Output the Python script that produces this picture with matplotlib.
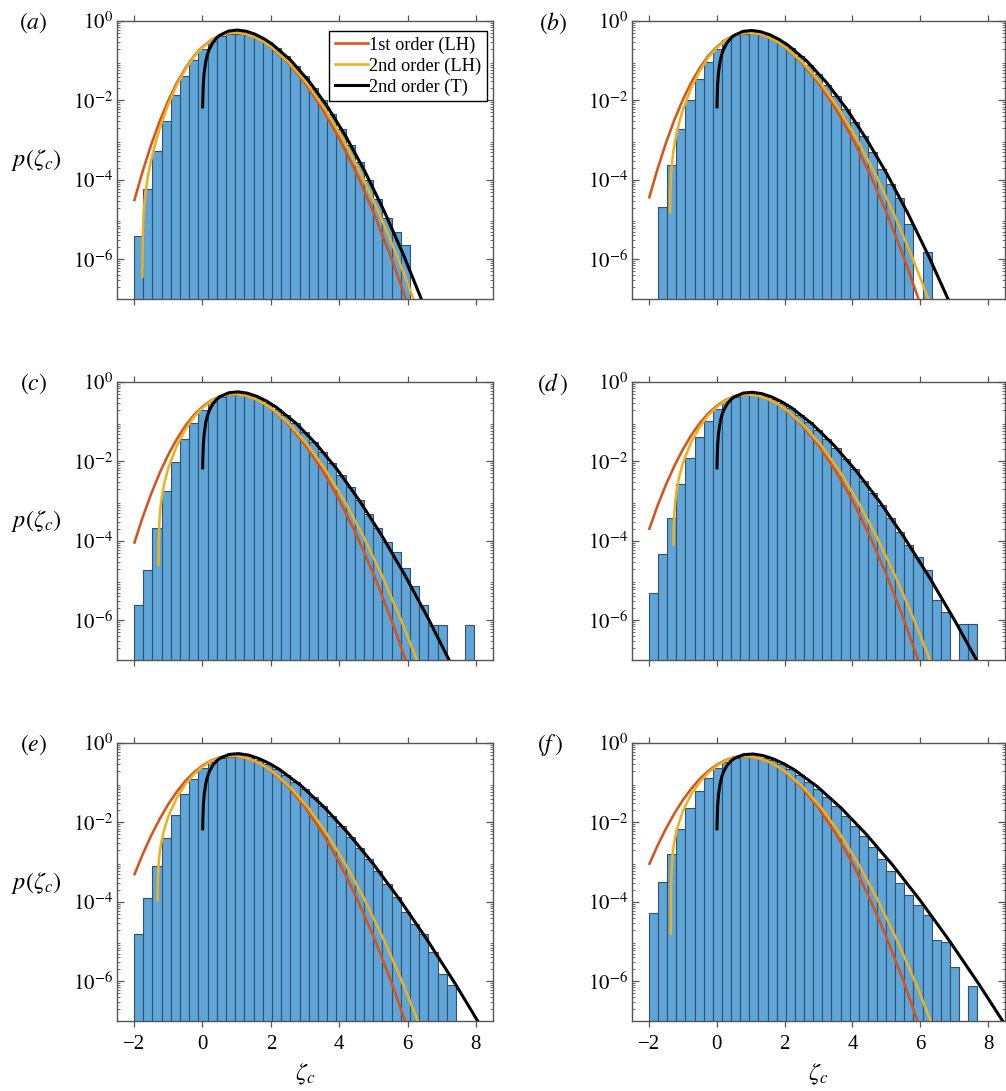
import numpy as np
import matplotlib
matplotlib.use('Agg')
import matplotlib.pyplot as plt
from matplotlib.ticker import LogLocator, NullFormatter, FixedLocator
from matplotlib.lines import Line2D

plt.rcParams['font.family'] = ['Liberation Serif', 'DejaVu Serif']
plt.rcParams['mathtext.fontset'] = 'stix'

# ---------------- data (log10 of pdf values) ----------------
BIN_W = 0.269
panels = ['a', 'b', 'c', 'd', 'e', 'f']
bar_start = {'a': -2.0, 'b': -1.731, 'c': -2.0, 'd': -2.0, 'e': -2.0, 'f': -2.0}
nan = np.nan
bars_a = [-5.41, -4.24, -3.27, -2.52, -1.875, -1.375, -0.975, -0.71, -0.50, -0.38, -0.33, -0.32, -0.35,
          -0.42, -0.53, -0.69, -0.89, -1.13, -1.39, -1.68, -2.00, -2.35, -2.72, -3.12, -3.55, -4.0,
          -4.47, -4.96, -5.32, -5.63]
bars_b = [-4.68, -3.62, -2.725, -2.0, -1.45, -1.02, -0.71, -0.48, -0.36, -0.32, -0.31, -0.34, -0.41,
          -0.53, -0.69, -0.88, -1.10, -1.34, -1.61, -1.90, -2.21, -2.55, -2.89, -3.31, -3.72, -4.10,
          -4.45, -5.10, nan, -5.825]
bars_c = [-5.625, -4.73, -3.67, -2.75, -2.025, -1.44, -1.04, -0.71, -0.50, -0.38, -0.33, -0.32, -0.35,
          -0.41, -0.52, -0.67, -0.84, -1.04, -1.26, -1.50, -1.76, -2.04, -2.34, -2.65, -2.98, -3.32,
          -3.68, -4.02, -4.29, -4.69, -5.125, -5.625, -6.125, -6.125, nan, nan, -6.125]
bars_d = [-5.32, -4.34, -3.42, -2.58, -1.92, -1.375, -0.97, -0.675, -0.48, -0.37, -0.33, -0.33, -0.36,
          -0.42, -0.52, -0.66, -0.82, -1.0, -1.21, -1.43, -1.67, -1.93, -2.2, -2.49, -2.79, -3.10,
          -3.43, -3.77, -4.11, -4.4, -4.73, -5.48, -5.79, nan, -6.09, -6.09]
bars_e = [-4.80, -3.91, -3.09, -2.38, -1.82, -1.295, -0.90, -0.64, -0.47, -0.37, -0.34, -0.34, -0.37,
          -0.43, -0.52, -0.65, -0.80, -0.97, -1.16, -1.37, -1.59, -1.83, -2.09, -2.36, -2.64, -2.93,
          -3.23, -3.55, -3.87, -4.25, -4.57, -4.82, -5.26, -5.81, -6.10]
bars_f = [-4.28, -3.51, -2.80, -2.17, -1.645, -1.21, -0.88, -0.64, -0.47, -0.38, -0.35, -0.35, -0.38,
          -0.44, -0.53, -0.65, -0.80, -0.97, -1.16, -1.37, -1.59, -1.83, -2.08, -2.35, -2.63, -2.92,
          -3.22, -3.52, -3.83, -4.09, -4.34, -4.95, -5.0, -5.64, nan, -6.12]
bars = {'a': bars_a, 'b': bars_b, 'c': bars_c, 'd': bars_d, 'e': bars_e, 'f': bars_f}

# 1st order (LH)
red_z = [-2, -1.75, -1.5, -1.25, -1, -0.75, -0.5, -0.25, 0, 0.25, 0.5, 0.75, 1, 1.25, 1.5, 1.75, 2,
         2.5, 3, 3.5, 4, 4.5, 5, 5.5, 6]
red_a = [-4.539, -3.786, -3.115, -2.520, -2.005, -1.559, -1.192, -0.885, -0.655, -0.481, -0.365, -0.302,
         -0.289, -0.320, -0.392, -0.502, -0.647, -1.039, -1.557, -2.196, -2.952, -3.824, -4.810, -5.908, -7.119]
red_b = [-4.471, -3.735, -3.074, -2.489, -1.981, -1.542, -1.180, -0.878, -0.651, -0.479, -0.365, -0.303,
         -0.290, -0.321, -0.393, -0.503, -0.649, -1.041, -1.559, -2.198, -2.954, -3.826, -4.811, -5.910, -7.121]
red_c = [-4.073, -3.407, -2.815, -2.288, -1.829, -1.437, -1.103, -0.832, -0.625, -0.468, -0.364, -0.308,
         -0.299, -0.333, -0.406, -0.516, -0.662, -1.054, -1.572, -2.211, -2.967, -3.839, -4.825, -5.923, -7.134]
red_d = [-3.726, -3.122, -2.587, -2.112, -1.697, -1.337, -1.035, -0.790, -0.600, -0.457, -0.363, -0.314,
         -0.309, -0.345, -0.419, -0.531, -0.677, -1.069, -1.587, -2.226, -2.982, -3.854, -4.840, -5.938, -7.149]
red_e = [-3.331, -2.805, -2.331, -1.911, -1.542, -1.225, -0.958, -0.740, -0.570, -0.444, -0.362, -0.322,
         -0.322, -0.362, -0.439, -0.552, -0.699, -1.091, -1.609, -2.248, -3.004, -3.876, -4.862, -5.960, -7.171]
red_f = [-3.071, -2.589, -2.158, -1.774, -1.438, -1.148, -0.904, -0.704, -0.548, -0.434, -0.361, -0.328,
         -0.334, -0.377, -0.456, -0.570, -0.718, -1.111, -1.629, -2.268, -3.025, -3.896, -4.882, -5.981, -7.192]
red = {'a': red_a, 'b': red_b, 'c': red_c, 'd': red_d, 'e': red_e, 'f': red_f}

# 2nd order (LH)
orange_z_a = [-1.755, -1.745, -1.72, -1.68, -1.6, -1.5, -1.35, -1.25, -1.0, -0.75, -0.5, -0.25, 0, 0.25, 0.5,
              0.75, 1.0068, 1.2605, 1.5152, 1.7707, 2.027, 2.5422, 3.0608, 3.5827, 4.108, 4.6367, 5.1688,
              5.7042, 6.243]
orange_a = [-6.47, -5.41, -4.84, -4.42, -3.93, -3.495, -2.996, -2.701, -2.102, -1.613, -1.223, -0.903, -0.665,
            -0.487, -0.369, -0.304, -0.2945, -0.3269, -0.4002, -0.5118, -0.6589, -1.0534, -1.5742, -2.2158,
            -2.9749, -3.8494, -4.8377, -5.9391, -7.1525]
orange_z_b = [-1.376, -1.37, -1.35, -1.32, -1.28, -1.2, -1.1, -1.0, -0.75, -0.5, -0.25, 0, 0.25, 0.5, 0.75,
              1.0088, 1.2637, 1.5197, 1.7768, 2.035, 2.5547, 3.0788, 3.6072, 4.14, 4.6772, 5.2188, 5.7647, 6.315]
orange_b = [-4.856, -4.447, -3.932, -3.574, -3.276, -2.885, -2.532, -2.237, -1.674, -1.2525, -0.919, -0.675,
            -0.493, -0.373, -0.308, -0.2974, -0.3306, -0.4045, -0.5165, -0.6641, -1.0595, -1.5811, -2.2235,
            -2.9833, -3.8586, -4.8477, -5.9497, -7.1639]
orange_z_c = [-1.2875, -1.28, -1.26, -1.23, -1.19, -1.11, -1.0, -0.75, -0.5, -0.25, 0, 0.25, 0.5, 0.75,
              1.0099, 1.2655, 1.5223, 1.7803, 2.0396, 2.5619, 3.0891, 3.6213, 4.1584, 4.7005, 5.2475,
              5.7995, 6.3564]
orange_c = [-4.641, -4.029, -3.519, -3.173, -2.895, -2.528, -2.166, -1.603, -1.1925, -0.882, -0.654, -0.485,
            -0.3735, -0.314, -0.3076, -0.3431, -0.4184, -0.5311, -0.6791, -1.075, -1.5971, -2.2399, -3.0002,
            -3.8758, -4.8655, -5.968, -7.1826]
orange_z_d = [-1.2777, -1.273, -1.253, -1.223, -1.183, -1.103, -1.0, -0.75, -0.5, -0.25, 0, 0.25, 0.5, 0.75,
              1.0105, 1.2664, 1.5236, 1.7822, 2.042, 2.5656, 3.0945, 3.6286, 4.168, 4.7126, 5.2625, 5.8176,
              6.378]
orange_d = [-4.115, -3.833, -3.327, -2.988, -2.718, -2.366, -2.042, -1.506, -1.126, -0.8406, -0.629, -0.474,
            -0.3724, -0.3198, -0.3178, -0.356, -0.4328, -0.5464, -0.6948, -1.0911, -1.6135, -2.2565, -3.017,
            -3.8929, -4.8828, -5.9856, -7.2004]
orange_z_e = [-1.317, -1.312, -1.292, -1.262, -1.222, -1.142, -1.0, -0.75, -0.5, -0.25, 0, 0.25, 0.5, 0.75,
              1.0113, 1.2677, 1.5254, 1.7846, 2.0452, 2.5706, 3.1017, 3.6384, 4.1808, 4.7288, 5.2825,
              5.8418, 6.4068]
orange_e = [-3.999, -3.692, -3.190, -2.852, -2.586, -2.249, -1.847, -1.378, -1.041, -0.787, -0.597, -0.459,
            -0.3706, -0.327, -0.3321, -0.3742, -0.4535, -0.5684, -0.7178, -1.115, -1.6377, -2.281, -3.0419,
            -3.9181, -4.9082, -6.0113, -7.2262]
orange_z_f = [-1.3564, -1.352, -1.347, -1.327, -1.297, -1.257, -1.177, -1.0, -0.75, -0.5, -0.25, 0, 0.25,
              0.5, 0.75, 1.0119, 1.2686, 1.5268, 1.7864, 2.0476, 2.5744, 3.1071, 3.6458, 4.1904, 4.741,
              5.2975, 5.86, 6.4284]
orange_f = [-4.831, -3.906, -3.600, -3.101, -2.767, -2.502, -2.174, -1.712, -1.288, -0.980, -0.747, -0.5727,
            -0.4484, -0.3695, -0.3331, -0.3441, -0.3897, -0.4713, -0.5878, -0.7381, -1.1362, -1.6594, -2.303,
            -3.0641, -3.9405, -4.9309, -6.0341, -7.2496]
orange_z = {'a': orange_z_a, 'b': orange_z_b, 'c': orange_z_c, 'd': orange_z_d, 'e': orange_z_e, 'f': orange_z_f}
orange = {'a': orange_a, 'b': orange_b, 'c': orange_c, 'd': orange_d, 'e': orange_e, 'f': orange_f}

# 2nd order (T)
black_z_a = [0.0063, 0.012, 0.025, 0.05, 0.1001, 0.1503, 0.2005, 0.3011, 0.402, 0.5031, 0.757, 1.0125,
             1.2695, 1.5281, 1.7883, 2.05, 2.5781, 3.1125, 3.6531, 4.2, 4.7531, 5.3125, 5.8781, 6.45]
black_a = [-2.201, -1.921, -1.603, -1.302, -1.003, -0.830, -0.710, -0.546, -0.437, -0.361, -0.255, -0.228,
           -0.256, -0.329, -0.441, -0.589, -0.986, -1.509, -2.152, -2.914, -3.790, -4.781, -5.884, -7.100]
black_z_b = [0.0063, 0.012, 0.025, 0.0501, 0.1003, 0.1506, 0.201, 0.3023, 0.404, 0.5063, 0.7641, 1.025,
             1.2891, 1.5563, 1.8266, 2.1, 2.6563, 3.225, 3.8063, 4.4, 5.0063, 5.625, 6.2563, 6.9]
black_b = [-2.201, -1.921, -1.603, -1.303, -1.004, -0.832, -0.712, -0.549, -0.441, -0.366, -0.263, -0.238,
           -0.269, -0.344, -0.458, -0.609, -1.010, -1.538, -2.186, -2.952, -3.832, -4.827, -5.934, -7.153]
black_z_c = [0.0063, 0.012, 0.025, 0.0501, 0.1004, 0.1508, 0.2015, 0.3033, 0.4059, 0.5093, 0.7708, 1.037,
             1.3078, 1.5833, 1.8633, 2.148, 2.7313, 3.333, 3.9533, 4.592, 5.2493, 5.925, 6.6193, 7.332]
black_c = [-2.201, -1.921, -1.603, -1.303, -1.005, -0.834, -0.714, -0.552, -0.445, -0.371, -0.271, -0.248,
           -0.281, -0.358, -0.475, -0.628, -1.033, -1.565, -2.217, -2.986, -3.870, -4.868, -5.978, -7.201]
black_z_d = [0.0063, 0.012, 0.025, 0.0501, 0.1005, 0.1511, 0.202, 0.3046, 0.4081, 0.5126, 0.7784, 1.0505,
             1.3289, 1.6136, 1.9047, 2.202, 2.8156, 3.4545, 4.1186, 4.808, 5.5226, 6.2625, 7.0276, 7.818]
black_d = [-2.201, -1.921, -1.603, -1.304, -1.007, -0.835, -0.716, -0.555, -0.450, -0.377, -0.279, -0.259,
           -0.294, -0.374, -0.493, -0.647, -1.057, -1.592, -2.247, -3.019, -3.906, -4.907, -6.020, -7.244]
black_z_e = [0.0063, 0.012, 0.025, 0.0502, 0.1006, 0.1514, 0.2025, 0.3056, 0.41, 0.5156, 0.7852, 1.0625,
             1.3477, 1.6406, 1.9414, 2.25, 2.8906, 3.5625, 4.2656, 5.0, 5.7656, 6.5625, 7.3906, 8.25]
black_e = [-2.201, -1.922, -1.604, -1.304, -1.008, -0.837, -0.718, -0.558, -0.454, -0.382, -0.286, -0.268,
           -0.306, -0.387, -0.508, -0.664, -1.077, -1.616, -2.274, -3.048, -3.938, -4.941, -6.056, -7.282]
black_z_f = [0.0063, 0.012, 0.025, 0.0502, 0.1007, 0.1517, 0.203, 0.3067, 0.4118, 0.5185, 0.7916, 1.074,
             1.3656, 1.6665, 1.9766, 2.296, 2.9625, 3.666, 4.4065, 5.184, 5.9985, 6.85, 7.7385, 8.664]
black_f = [-2.201, -1.922, -1.604, -1.305, -1.009, -0.838, -0.720, -0.561, -0.458, -0.386, -0.293, -0.277,
           -0.317, -0.400, -0.522, -0.680, -1.096, -1.636, -2.296, -3.072, -3.963, -4.967, -6.082, -7.310]
black_z = {'a': black_z_a, 'b': black_z_b, 'c': black_z_c, 'd': black_z_d, 'e': black_z_e, 'f': black_z_f}
black = {'a': black_a, 'b': black_b, 'c': black_c, 'd': black_d, 'e': black_e, 'f': black_f}

legend_labels = ['1st order (LH)', '2nd order (LH)', '2nd order (T)']
panel_tags = {'a': r'$(a)$', 'b': r'$(b)$', 'c': r'$(c)$', 'd': r'$(d\,)$', 'e': r'$(e)$', 'f': r'$(f\,)$'}
xticks = [-2, 0, 2, 4, 6, 8]
yticks = [1e0, 1e-2, 1e-4, 1e-6]
yticklabels = [r'$10^{0}$', r'$10^{-2}$', r'$10^{-4}$', r'$10^{-6}$']

# ---------------- style / layout ----------------
W, H = 1006, 1091
C_BAR = '#5fa5d8'
C_EDGE = '#34506b'
C_RED = '#D95319'
C_ORANGE = '#EDB120'
C_BLACK = '#000000'
C_AX = '#555555'
LW_C = 1.85
LW_K = 2.2

col_left = [117, 632]
col_width = [376, 373]
row_top = [21, 382, 743]
ax_h = 278

fig = plt.figure(figsize=(W / 100, H / 100), dpi=100)

for i, p in enumerate(panels):
    r, c = divmod(i, 2)
    left = col_left[c] / W
    bottom = 1 - (row_top[r] + ax_h) / H
    ax = fig.add_axes([left, bottom, col_width[c] / W, ax_h / H])

    hb = 10.0 ** np.array(bars[p], dtype=float)
    edges = bar_start[p] + BIN_W * np.arange(len(hb))
    ok = np.isfinite(hb)
    base = 1e-10
    ax.bar(edges[ok], hb[ok] - base, width=BIN_W, bottom=base, align='edge',
           color=C_BAR, edgecolor=C_EDGE, linewidth=0.8, zorder=1)

    ax.plot(red_z, 10.0 ** np.array(red[p]), color=C_RED, lw=LW_C, zorder=3, solid_capstyle='butt')
    ax.plot(orange_z[p], 10.0 ** np.array(orange[p]), color=C_ORANGE, lw=LW_C, zorder=4, solid_capstyle='butt')
    ax.plot(black_z[p], 10.0 ** np.array(black[p]), color=C_BLACK, lw=LW_K, zorder=5, solid_capstyle='butt')

    ax.set_yscale('log')
    ax.set_xlim(-2.5, 8.5)
    ax.set_ylim(1e-7, 1.0)
    ax.set_xticks(xticks)
    ax.yaxis.set_major_locator(FixedLocator(yticks))
    ax.set_yticklabels(yticklabels)
    ax.yaxis.set_minor_locator(LogLocator(base=10, subs=np.arange(2, 10), numticks=30))
    ax.yaxis.set_minor_formatter(NullFormatter())

    for sp in ax.spines.values():
        sp.set_color(C_AX)
        sp.set_linewidth(1.0)
    ax.tick_params(axis='x', which='major', direction='out', top=True, bottom=True,
                   length=4, width=0.9, color=C_AX, labelsize=15, pad=6)
    ax.tick_params(axis='y', which='major', direction='in', left=True, right=True,
                   length=5, width=0.9, color=C_AX, labelsize=15, pad=3)
    ax.tick_params(axis='y', which='minor', direction='in', left=True, right=True,
                   length=2.5, width=0.6, color=C_AX)
    if r < 2:
        ax.set_xticklabels([])

    if p == 'a':
        handles = [Line2D([], [], color=C_RED, lw=LW_C),
                   Line2D([], [], color=C_ORANGE, lw=LW_C),
                   Line2D([], [], color=C_BLACK, lw=LW_K)]
        leg = ax.legend(handles, legend_labels, loc='upper right', bbox_to_anchor=(0.984, 0.964),
                        borderaxespad=0, fontsize=13.2, handlelength=1.85, handletextpad=0.05,
                        labelspacing=0.2, borderpad=0.3, fancybox=False, framealpha=1)
        leg.get_frame().set_edgecolor('black')
        leg.get_frame().set_linewidth(1.0)

# panel tags
tag_pos = {'a': (19, 23), 'b': (539, 23), 'c': (20, 384), 'd': (537, 384), 'e': (20, 745), 'f': (537, 745)}
for p, (x, y) in tag_pos.items():
    fig.text(x / W, 1 - y / H, panel_tags[p], fontsize=17, ha='left', va='center')

# y labels (left column)
for yc in [160, 521, 883]:
    fig.text(36 / W, 1 - yc / H, r'$p(\zeta_c)$', fontsize=17.5, ha='center', va='center')
# x labels (bottom row)
for xc in [305, 818]:
    fig.text(xc / W, 1 - 1074 / H, r'$\zeta_c$', fontsize=17.5, ha='center', va='center')

fig.savefig('out.png', dpi=100)
